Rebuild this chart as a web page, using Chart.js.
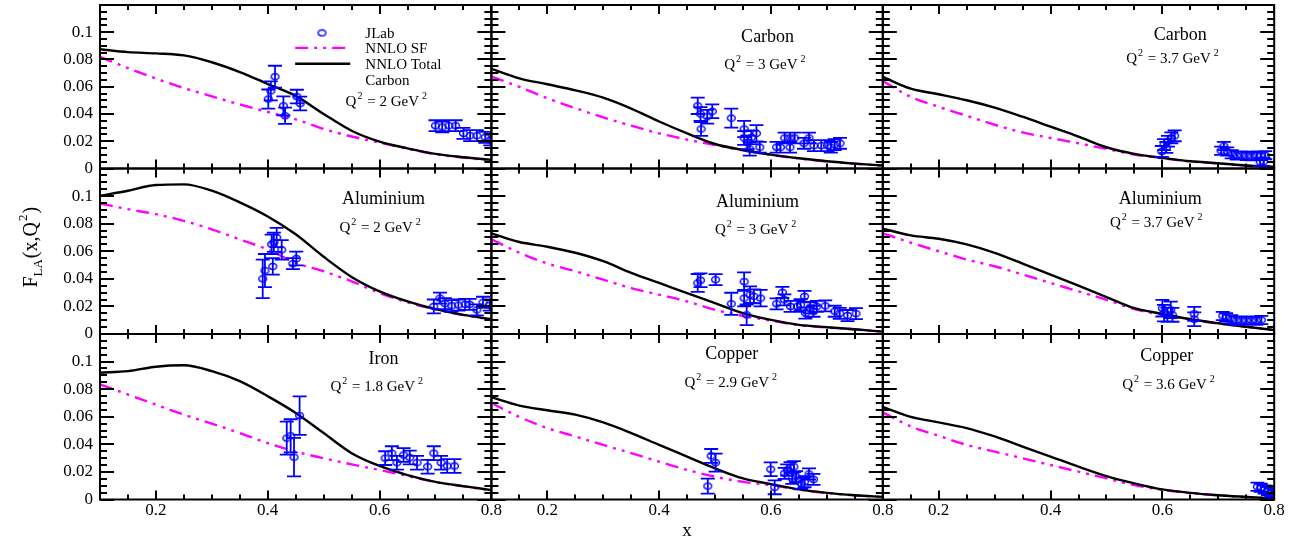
<!DOCTYPE html>
<html>
<head>
<meta charset="utf-8">
<title>F_LA(x,Q2) - JLab vs NNLO</title>
<script src="https://cdn.jsdelivr.net/npm/chart.js@4.4.1/dist/chart.umd.min.js"></script>
<style>
  html, body { margin: 0; padding: 0; background: #fff; }
  #wrap { position: relative; width: 1301px; height: 541px; overflow: hidden; }
  #wrap canvas { position: absolute; left: 0; top: 0; }
</style>
</head>
<body>
<div id="wrap"></div>
<script>
// ---------- values ----------
const xGrid = [0.1, 0.15, 0.2, 0.25, 0.3, 0.35, 0.4, 0.45, 0.5, 0.55, 0.6, 0.65, 0.7, 0.75, 0.8];

const xTickValues = [0.2, 0.4, 0.6, 0.8];
const xTickLabels = ['0.2', '0.4', '0.6', '0.8'];
const yTickValues = [0, 0.02, 0.04, 0.06, 0.08, 0.1];
const yTickLabels = ['0', '0.02', '0.04', '0.06', '0.08', '0.1'];

const panelTargets = ['Carbon', 'Carbon', 'Carbon', 'Aluminium', 'Aluminium', 'Aluminium', 'Iron', 'Copper', 'Copper'];
const panelQ2 = ['2', '3', '3.7', '2', '3', '3.7', '1.8', '2.9', '3.6'];
const seriesNames = ['JLab', 'NNLO SF', 'NNLO Total'];

// Carbon, Q2 = 2
const totC2 = [0.0875, 0.0854, 0.0845, 0.083, 0.078, 0.0708, 0.062, 0.0533, 0.040, 0.0277, 0.0197, 0.0148, 0.0107, 0.0083, 0.0063];
const sfC2 = [0.082, 0.0737, 0.066, 0.059, 0.053, 0.047, 0.0415, 0.036, 0.029, 0.0235, 0.019, 0.0145, 0.0105, 0.008, 0.006];
const jlabXC2 = [0.401, 0.4055, 0.413, 0.428, 0.431, 0.452, 0.458, 0.700, 0.712, 0.724, 0.736, 0.750, 0.762, 0.774, 0.789, 0.798];
const jlabYC2 = [0.051, 0.057, 0.0674, 0.046, 0.0387, 0.0528, 0.0477, 0.0314, 0.0305, 0.0314, 0.0314, 0.0258, 0.0241, 0.0241, 0.0229, 0.021];
const jlabEC2 = [0.007, 0.007, 0.008, 0.007, 0.006, 0.005, 0.005, 0.004, 0.004, 0.004, 0.004, 0.004, 0.004, 0.004, 0.004, 0.004];

// Carbon, Q2 = 3
const totC3 = [0.0732, 0.0662, 0.0618, 0.0574, 0.052, 0.044, 0.0345, 0.0258, 0.018, 0.0136, 0.0102, 0.0075, 0.0053, 0.0036, 0.0022];
const sfC3 = [0.0675, 0.0599, 0.0516, 0.0443, 0.0375, 0.0314, 0.0258, 0.0212, 0.0172, 0.0133, 0.0100, 0.0074, 0.0052, 0.0035, 0.0021];
const jlabXC3 = [0.469, 0.474, 0.475, 0.486, 0.495, 0.529, 0.552, 0.552, 0.558, 0.562, 0.565, 0.574, 0.580, 0.610, 0.617, 0.6245, 0.634, 0.634, 0.6425, 0.659, 0.668, 0.677, 0.690, 0.701, 0.707, 0.714, 0.7235];
const jlabYC3 = [0.046, 0.040, 0.029, 0.038, 0.042, 0.037, 0.029, 0.0224, 0.0192, 0.0144, 0.0229, 0.0258, 0.0156, 0.0156, 0.0156, 0.0224, 0.0156, 0.0224, 0.0224, 0.0185, 0.0224, 0.0168, 0.0168, 0.0168, 0.0156, 0.0175, 0.0185];
const jlabEC3 = [0.006, 0.005, 0.005, 0.005, 0.005, 0.007, 0.006, 0.005, 0.005, 0.005, 0.005, 0.006, 0.004, 0.004, 0.004, 0.004, 0.004, 0.004, 0.004, 0.004, 0.004, 0.004, 0.004, 0.004, 0.004, 0.004, 0.004];

// Carbon, Q2 = 3.7
const totC37 = [0.0672, 0.0586, 0.0545, 0.0501, 0.0447, 0.038, 0.0307, 0.0234, 0.0156, 0.0107, 0.0078, 0.0053, 0.0039, 0.0022, 0.0011];
const sfC37 = [0.0642, 0.0526, 0.0453, 0.0387, 0.0321, 0.0265, 0.0224, 0.0185, 0.0144, 0.0102, 0.0075, 0.0052, 0.0038, 0.0021, 0.001];
const jlabXC37 = [0.599, 0.603, 0.607, 0.610, 0.616, 0.622, 0.705, 0.710, 0.716, 0.724, 0.733, 0.742, 0.751, 0.760, 0.769, 0.776, 0.784, 0.775, 0.781];
const jlabYC37 = [0.0125, 0.0175, 0.0155, 0.020, 0.0225, 0.024, 0.0130, 0.0165, 0.0125, 0.0105, 0.0095, 0.0095, 0.0092, 0.0090, 0.0095, 0.0092, 0.0098, 0.0047, 0.0050];
const jlabEC37 = [0.004, 0.004, 0.004, 0.004, 0.004, 0.004, 0.003, 0.003, 0.003, 0.003, 0.003, 0.003, 0.003, 0.003, 0.003, 0.003, 0.003, 0.003, 0.003];

// Aluminium, Q2 = 2
const totAl2 = [0.1002, 0.1039, 0.108, 0.1085, 0.1039, 0.0954, 0.0852, 0.0723, 0.056, 0.0414, 0.0309, 0.0236, 0.018, 0.0139, 0.0107];
const sfAl2 = [0.0946, 0.0905, 0.0869, 0.082, 0.0759, 0.0686, 0.0613, 0.0516, 0.0455, 0.0382, 0.0297, 0.0229, 0.0178, 0.0137, 0.0105];
const jlabXAl2 = [0.391, 0.395, 0.409, 0.407, 0.411, 0.416, 0.425, 0.445, 0.451, 0.697, 0.708, 0.717, 0.729, 0.741, 0.753, 0.761, 0.774, 0.785, 0.797];
const jlabYAl2 = [0.040, 0.046, 0.049, 0.065, 0.0665, 0.070, 0.061, 0.051, 0.0547, 0.020, 0.026, 0.022, 0.0205, 0.021, 0.0215, 0.0215, 0.0175, 0.023, 0.021];
const jlabEAl2 = [0.014, 0.012, 0.006, 0.007, 0.007, 0.007, 0.007, 0.004, 0.005, 0.005, 0.004, 0.004, 0.004, 0.004, 0.004, 0.004, 0.004, 0.004, 0.004];

// Aluminium, Q2 = 3
const totAl3 = [0.073, 0.0667, 0.0633, 0.0589, 0.0528, 0.0443, 0.037, 0.0297, 0.0224, 0.0151, 0.0102, 0.0066, 0.0049, 0.0034, 0.0017];
const sfAl3 = [0.0686, 0.0589, 0.0511, 0.0455, 0.0394, 0.0333, 0.0285, 0.0236, 0.0175, 0.0131, 0.0097, 0.0064, 0.0047, 0.0033, 0.0016];
const jlabXAl3 = [0.469, 0.474, 0.501, 0.529, 0.552, 0.552, 0.5565, 0.5625, 0.5695, 0.5815, 0.610, 0.6204, 0.624, 0.635, 0.647, 0.653, 0.660, 0.6615, 0.670, 0.676, 0.682, 0.697, 0.714, 0.723, 0.737, 0.752];
const jlabYAl3 = [0.037, 0.039, 0.0394, 0.0219, 0.038, 0.026, 0.0139, 0.0285, 0.0273, 0.026, 0.0219, 0.0302, 0.0248, 0.020, 0.020, 0.0212, 0.0273, 0.0151, 0.019, 0.0165, 0.020, 0.0204, 0.0165, 0.015, 0.0134, 0.0148];
const jlabEAl3 = [0.0065, 0.005, 0.004, 0.008, 0.0067, 0.006, 0.0075, 0.006, 0.005, 0.006, 0.004, 0.004, 0.004, 0.004, 0.004, 0.004, 0.004, 0.004, 0.004, 0.004, 0.004, 0.004, 0.004, 0.004, 0.004, 0.004];

// Aluminium, Q2 = 3.7
const totAl37 = [0.0764, 0.0715, 0.0691, 0.065, 0.0589, 0.0511, 0.0431, 0.035, 0.0268, 0.0187, 0.0146, 0.0107, 0.0078, 0.0053, 0.0029];
const sfAl37 = [0.073, 0.0662, 0.060, 0.054, 0.0491, 0.0431, 0.037, 0.0309, 0.0248, 0.018, 0.0139, 0.0104, 0.0076, 0.0052, 0.0028];
const jlabXAl37 = [0.600, 0.603, 0.609, 0.615, 0.618, 0.657, 0.657, 0.708, 0.714, 0.723, 0.732, 0.741, 0.750, 0.759, 0.768, 0.777];
const jlabYAl37 = [0.0187, 0.0151, 0.0139, 0.0175, 0.0139, 0.0107, 0.0146, 0.0131, 0.0122, 0.0107, 0.0097, 0.0097, 0.0097, 0.0097, 0.0097, 0.0102];
const jlabEAl37 = [0.006, 0.006, 0.005, 0.006, 0.005, 0.005, 0.005, 0.003, 0.003, 0.003, 0.003, 0.003, 0.003, 0.003, 0.003, 0.003];

// Iron, Q2 = 1.8
const totFe18 = [0.092, 0.0931, 0.0963, 0.0973, 0.0931, 0.0858, 0.0749, 0.0628, 0.0482, 0.0336, 0.0243, 0.0177, 0.0128, 0.0097, 0.0068];
const sfFe18 = [0.0834, 0.0761, 0.0688, 0.0615, 0.055, 0.0482, 0.0409, 0.0347, 0.0299, 0.0255, 0.0214, 0.017, 0.0126, 0.0095, 0.0066];
const jlabXFe18 = [0.434, 0.441, 0.447, 0.457, 0.610, 0.622, 0.631, 0.643, 0.654, 0.667, 0.686, 0.697, 0.710, 0.721, 0.734];
const jlabYFe18 = [0.0445, 0.0462, 0.0307, 0.0608, 0.030, 0.0336, 0.0267, 0.0323, 0.0304, 0.0267, 0.0238, 0.0336, 0.0267, 0.0243, 0.0243];
const jlabEFe18 = [0.012, 0.012, 0.014, 0.014, 0.005, 0.005, 0.005, 0.005, 0.005, 0.005, 0.005, 0.005, 0.005, 0.005, 0.005];

// Copper, Q2 = 2.9
const totCu29 = [0.0742, 0.0681, 0.0647, 0.0615, 0.0559, 0.0482, 0.0396, 0.0311, 0.0226, 0.0153, 0.0112, 0.0073, 0.0048, 0.0031, 0.0019];
const sfCu29 = [0.070, 0.0599, 0.0518, 0.0457, 0.0396, 0.0336, 0.0274, 0.0214, 0.0165, 0.0128, 0.0104, 0.0071, 0.0047, 0.003, 0.0018];
const jlabXCu29 = [0.487, 0.493, 0.501, 0.5995, 0.6066, 0.6245, 0.629, 0.635, 0.641, 0.638, 0.645, 0.654, 0.660, 0.668, 0.676];
const jlabYCu29 = [0.0097, 0.0316, 0.0267, 0.0219, 0.0088, 0.019, 0.0214, 0.0231, 0.0238, 0.0153, 0.0165, 0.0117, 0.0129, 0.0185, 0.0146];
const jlabECu29 = [0.0055, 0.005, 0.0065, 0.005, 0.005, 0.004, 0.004, 0.004, 0.004, 0.004, 0.004, 0.004, 0.004, 0.004, 0.004];

// Copper, Q2 = 3.6
const totCu36 = [0.0672, 0.0599, 0.0559, 0.0518, 0.0457, 0.0384, 0.0311, 0.0238, 0.017, 0.0117, 0.0073, 0.0048, 0.0031, 0.0019, 0.0008];
const sfCu36 = [0.0632, 0.053, 0.0462, 0.0396, 0.0347, 0.0299, 0.025, 0.0202, 0.0153, 0.0104, 0.007, 0.0047, 0.003, 0.0018, 0.0007];
const jlabXCu36 = [0.770, 0.776, 0.783, 0.789, 0.795, 0.799];
const jlabYCu36 = [0.0092, 0.0085, 0.0073, 0.0062, 0.0050, 0.0035];
const jlabECu36 = [0.003, 0.003, 0.003, 0.003, 0.003, 0.003];

// ---------- layout (page pixels / axis units) ----------
const PAGE_W = 1301, PAGE_H = 541;
const PANEL_LEFT = 100, PANEL_TOP = 3;
const PANEL_W = 391.4, PANEL_H = 165.5;
const Y_AXIS_W = 60, X_AXIS_H = 30;
const X_MIN = 0.1, X_MAX = 0.8, Y_MIN = 0, Y_MAX = 0.12;
const FONT = 'Liberation Serif';
const BLUE = '#0000ff', MAGENTA = '#ff00ff', BLACK = '#000000';

// where the panel title and Q2 text sit, in axis units [titleX, titleY, q2X, q2Y]
const labelSpots = [
    [null, null, 0.612, 0.0496],
    [0.594, 0.097, 0.589, 0.0766],
    [0.632, 0.0985, 0.618, 0.081],
    [0.607, 0.0985, 0.601, 0.0774],
    [0.576, 0.0964, 0.5726, 0.0759],
    [0.596, 0.0985, 0.589, 0.081],
    [0.607, 0.1024, 0.595, 0.082],
    [0.530, 0.106, 0.528, 0.085],
    [0.608, 0.1046, 0.611, 0.0834],
];
// legend inside the first panel, axis units
const legendSpot = { markX: 0.497, lineX0: 0.449, lineX1: 0.5475, textX: 0.5745, rows: [0.0995, 0.0885, 0.0769, 0.065] };

const panels = [
    { tot: totC2, sf: sfC2, jx: jlabXC2, jy: jlabYC2, je: jlabEC2 },
    { tot: totC3, sf: sfC3, jx: jlabXC3, jy: jlabYC3, je: jlabEC3 },
    { tot: totC37, sf: sfC37, jx: jlabXC37, jy: jlabYC37, je: jlabEC37 },
    { tot: totAl2, sf: sfAl2, jx: jlabXAl2, jy: jlabYAl2, je: jlabEAl2 },
    { tot: totAl3, sf: sfAl3, jx: jlabXAl3, jy: jlabYAl3, je: jlabEAl3 },
    { tot: totAl37, sf: sfAl37, jx: jlabXAl37, jy: jlabYAl37, je: jlabEAl37 },
    { tot: totFe18, sf: sfFe18, jx: jlabXFe18, jy: jlabYFe18, je: jlabEFe18 },
    { tot: totCu29, sf: sfCu29, jx: jlabXCu29, jy: jlabYCu29, je: jlabECu29 },
    { tot: totCu36, sf: sfCu36, jx: jlabXCu36, jy: jlabYCu36, je: jlabECu36 },
];

// open ellipse used as the JLab marker
function makeMarker() {
    const c = document.createElement('canvas');
    c.width = 11; c.height = 9;
    const g = c.getContext('2d');
    g.strokeStyle = BLUE;
    g.lineWidth = 1.4;
    g.beginPath();
    g.ellipse(5.5, 4.5, 3.9, 3.0, 0, 0, Math.PI * 2);
    g.stroke();
    return c;
}
const marker = makeMarker();

// text with sub/superscripts: parts = [{t, size, dy, pre}]
function richWidth(ctx, parts) {
    let w = 0;
    parts.forEach(p => {
        ctx.font = `${p.size}px "${FONT}"`;
        w += (p.pre || 0) + ctx.measureText(p.t).width;
    });
    return w;
}
function drawRich(ctx, parts, cx, baseY) {
    let x = cx - richWidth(ctx, parts) / 2;
    ctx.textAlign = 'left';
    ctx.textBaseline = 'alphabetic';
    parts.forEach(p => {
        ctx.font = `${p.size}px "${FONT}"`;
        x += p.pre || 0;
        ctx.fillText(p.t, x, baseY + (p.dy || 0));
        x += ctx.measureText(p.t).width;
    });
}

// Frame plus inward ticks on all four sides
const frameTicks = {
    id: 'frameTicks',
    afterDraw(chart) {
        const { ctx, chartArea: a, scales: { x, y } } = chart;
        ctx.save();
        ctx.strokeStyle = BLACK;
        ctx.lineWidth = 2;
        ctx.beginPath();
        for (let i = 0; i <= 14; i++) {
            const v = X_MIN + i * 0.05;
            const major = xTickValues.some(t => Math.abs(t - v) < 1e-6);
            const len = major ? 9 : 5;
            const px = Math.round(x.getPixelForValue(v));
            ctx.moveTo(px, a.bottom); ctx.lineTo(px, a.bottom - len);
            ctx.moveTo(px, a.top); ctx.lineTo(px, a.top + len);
        }
        for (let i = 0; i <= 24; i++) {
            const v = Y_MIN + i * 0.005;
            const major = i % 4 === 0;
            const len = major ? 14 : 7;
            const py = Math.round(y.getPixelForValue(v));
            ctx.moveTo(a.left, py); ctx.lineTo(a.left + len, py);
            ctx.moveTo(a.right, py); ctx.lineTo(a.right - len, py);
        }
        ctx.stroke();
        ctx.strokeRect(a.left, a.top, a.right - a.left, a.bottom - a.top);
        ctx.restore();
    }
};

// Vertical error bars with caps for datasets carrying `errors`
const errorBars = {
    id: 'errorBars',
    afterDatasetsDraw(chart) {
        const { ctx, chartArea: a, scales: { y } } = chart;
        chart.data.datasets.forEach((ds, di) => {
            if (!ds.errors) return;
            const meta = chart.getDatasetMeta(di);
            ctx.save();
            ctx.beginPath();
            ctx.rect(a.left, a.top, a.right - a.left, a.bottom - a.top);
            ctx.clip();
            ctx.strokeStyle = BLUE;
            ctx.lineWidth = 1.8;
            ctx.beginPath();
            meta.data.forEach((pt, i) => {
                const top = y.getPixelForValue(ds.data[i].y + ds.errors[i]);
                const bot = y.getPixelForValue(ds.data[i].y - ds.errors[i]);
                ctx.moveTo(pt.x, top); ctx.lineTo(pt.x, bot);
                ctx.moveTo(pt.x - 7, top); ctx.lineTo(pt.x + 7, top);
                ctx.moveTo(pt.x - 7, bot); ctx.lineTo(pt.x + 7, bot);
            });
            ctx.stroke();
            ctx.restore();
        });
    }
};

// Target name, Q2 value, legend and axis titles
const panelText = {
    id: 'panelText',
    afterDraw(chart, args, opts) {
        const { ctx, chartArea: a, scales: { x, y } } = chart;
        const idx = opts.index;
        const spot = labelSpots[idx];
        ctx.save();
        ctx.fillStyle = BLACK;
        if (spot[0] !== null) {
            ctx.font = `18px "${FONT}"`;
            ctx.textAlign = 'center';
            ctx.textBaseline = 'alphabetic';
            ctx.fillText(panelTargets[idx], x.getPixelForValue(spot[0]), y.getPixelForValue(spot[1]) + 6);
        }
        drawRich(ctx, [
            { t: 'Q', size: 15 },
            { t: '2', size: 10, dy: -7, pre: 1 },
            { t: ' = ' + panelQ2[idx] + ' GeV', size: 15, pre: 1 },
            { t: '2', size: 10, dy: -7, pre: 3 },
        ], x.getPixelForValue(spot[2]), y.getPixelForValue(spot[3]) + 5);

        if (idx === 0) {
            const L = legendSpot;
            const rows = L.rows.map(v => y.getPixelForValue(v));
            const tx = x.getPixelForValue(L.textX);
            const lx0 = x.getPixelForValue(L.lineX0), lx1 = x.getPixelForValue(L.lineX1);
            ctx.drawImage(marker, x.getPixelForValue(L.markX) - marker.width / 2, rows[0] - marker.height / 2);
            const sfDs = chart.data.datasets[1], totDs = chart.data.datasets[2];
            [[sfDs, rows[1]], [totDs, rows[2]]].forEach(([ds, ry]) => {
                ctx.save();
                ctx.strokeStyle = ds.borderColor;
                ctx.lineWidth = ds.borderWidth;
                ctx.setLineDash(ds.borderDash || []);
                ctx.beginPath();
                ctx.moveTo(lx0, ry); ctx.lineTo(lx1, ry);
                ctx.stroke();
                ctx.restore();
            });
            ctx.font = `15px "${FONT}"`;
            ctx.textAlign = 'left';
            ctx.textBaseline = 'middle';
            seriesNames.forEach((s, i) => ctx.fillText(s, tx, rows[i] + 1));
            ctx.fillText(panelTargets[0], tx, rows[3] + 1);
        }
        if (idx === 3) {
            // y axis title, rotated
            ctx.translate(a.left - 63, (a.top + a.bottom) / 2 - 4);
            ctx.rotate(-Math.PI / 2);
            drawRich(ctx, [
                { t: 'F', size: 20 },
                { t: 'LA', size: 13, dy: 5 },
                { t: '(x,Q', size: 20, pre: 1 },
                { t: '2', size: 13, dy: -10, pre: 1 },
                { t: ')', size: 20, pre: 1 },
            ], 0, 0);
        }
        if (idx === 7) {
            ctx.font = `19px "${FONT}"`;
            ctx.textAlign = 'center';
            ctx.textBaseline = 'alphabetic';
            ctx.fillText('x', (a.left + a.right) / 2, a.bottom + 36);
        }
        ctx.restore();
    }
};

// fixed axis boxes, so every plot area lands exactly on its panel
function fixAxisBox(scale) {
    if (!scale.options.display) {
        scale.width = scale.height = 0;
    } else if (scale.isHorizontal()) {
        scale.height = X_AXIS_H;
    } else {
        scale.width = Y_AXIS_W;
    }
    scale.paddingTop = scale.paddingBottom = scale.paddingLeft = scale.paddingRight = 0;
}

function makePanel(idx) {
    const row = Math.floor(idx / 3), col = idx % 3;
    const p = panels[idx];
    const left = PANEL_LEFT + col * PANEL_W;
    const top = PANEL_TOP + row * PANEL_H;
    const showY = col === 0, showX = row === 2;

    const canvas = document.createElement('canvas');
    canvas.width = PAGE_W;
    canvas.height = PAGE_H;
    document.getElementById('wrap').appendChild(canvas);

    new Chart(canvas, {
        type: 'scatter',
        data: {
            datasets: [
                {
                    label: seriesNames[0],
                    data: p.jx.map((v, i) => ({ x: v, y: p.jy[i] })),
                    errors: p.je,
                    pointStyle: marker,
                    pointRadius: 4,
                    showLine: false,
                    order: 0,
                },
                {
                    label: seriesNames[1],
                    data: xGrid.map((v, i) => ({ x: v, y: p.sf[i] })),
                    showLine: true,
                    borderColor: MAGENTA,
                    borderWidth: 2.4,
                    borderDash: [13, 6, 3, 6, 3, 6],
                    pointRadius: 0,
                    cubicInterpolationMode: 'monotone',
                    order: 2,
                },
                {
                    label: seriesNames[2],
                    data: xGrid.map((v, i) => ({ x: v, y: p.tot[i] })),
                    showLine: true,
                    borderColor: BLACK,
                    borderWidth: 2.4,
                    pointRadius: 0,
                    cubicInterpolationMode: 'monotone',
                    order: 1,
                },
            ],
        },
        options: {
            responsive: false,
            animation: false,
            devicePixelRatio: 1,
            events: [],
            layout: {
                padding: {
                    left: showY ? left - Y_AXIS_W : left,
                    top: top,
                    right: PAGE_W - left - PANEL_W,
                    bottom: PAGE_H - top - PANEL_H - (showX ? X_AXIS_H : 0),
                },
            },
            scales: {
                x: {
                    type: 'linear',
                    min: X_MIN,
                    max: X_MAX,
                    display: showX,
                    afterFit: fixAxisBox,
                    afterBuildTicks: s => { s.ticks = xTickValues.map(v => ({ value: v })); },
                    grid: { display: false, drawTicks: false },
                    border: { display: false },
                    ticks: {
                        autoSkip: false,
                        maxRotation: 0,
                        padding: 1,
                        color: BLACK,
                        font: { family: FONT, size: 17 },
                        callback: (v, i) => xTickLabels[i],
                    },
                },
                y: {
                    type: 'linear',
                    min: Y_MIN,
                    max: Y_MAX,
                    display: showY,
                    afterFit: fixAxisBox,
                    afterBuildTicks: s => { s.ticks = yTickValues.map(v => ({ value: v })); },
                    grid: { display: false, drawTicks: false },
                    border: { display: false },
                    ticks: {
                        autoSkip: false,
                        padding: 7,
                        color: BLACK,
                        font: { family: FONT, size: 17 },
                        callback: (v, i) => yTickLabels[i],
                    },
                },
            },
            plugins: {
                legend: { display: false },
                tooltip: { enabled: false },
                panelText: { index: idx },
            },
        },
        plugins: [errorBars, frameTicks, panelText],
    });
}

for (let i = 0; i < panels.length; i++) {
    makePanel(i);
}
</script>
</body>
</html>
